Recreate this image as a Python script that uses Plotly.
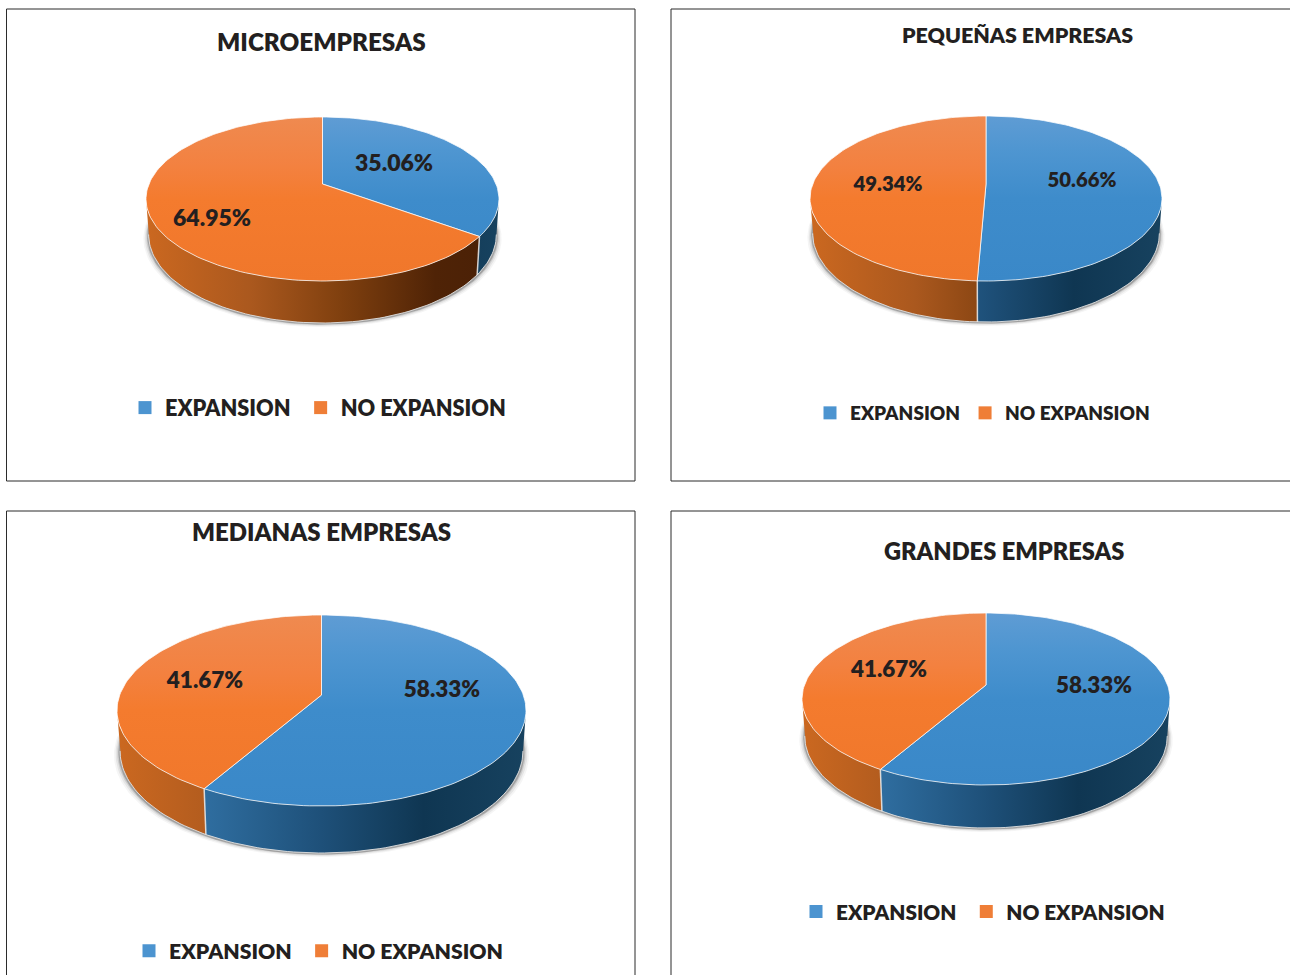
import math
import plotly.graph_objects as go

W, H = 1290, 975

# ---- data ----
categories = ["EXPANSION", "NO EXPANSION"]
titles = ["MICROEMPRESAS", "PEQUEÑAS EMPRESAS", "MEDIANAS EMPRESAS", "GRANDES EMPRESAS"]
expansion_pct = [35.06, 50.66, 58.33, 58.33]
no_expansion_pct = [64.95, 49.34, 41.67, 41.67]

# ---- layout of each panel (px) ----
frames = [(6.5, 9, 635, 481), (671, 9, 1310, 481), (6.5, 511, 635, 995), (671, 511, 1310, 995)]
# left, right, top, bottom of pie face; apex y; front wall depth
pies = [(146, 499, 117, 281, 184, 42), (810, 1162, 116, 281, 184, 41),
        (117, 526, 615, 806, 695, 47), (802, 1170, 613, 785, 685, 43)]
title_pos = [(321, 41.5), (1017, 34.5), (321, 531.5), (1004, 550.5)]
title_sizes = [24.3, 21.4, 24, 23.6]
label_pos = [((394, 165), (212, 220)), ((1082, 182), (888, 186)),
             ((442, 691), (205, 682)), ((1094, 687), (889, 671))]
label_sizes = [23, 20.3, 22.5, 22.4]
legend_pos = [(125, 408, 21.7), (810, 413, 19), (129, 951, 21.2), (796, 912, 20.8)]
legend_gap = [1, 0, 1, 1]  # extra space after the first legend entry
BASE_SCALE = 0.985
FONT_WEIGHT = 800

BLUE_TOP = [[0, "#5f9cd4"], [0.2, "#4f96d1"], [0.5, "#3e8ccb"], [1, "#3a88c8"]]
ORANGE_TOP = [[0, "#ef8a50"], [0.3, "#f38140"], [0.5, "#f47b2e"], [1, "#f0772b"]]
BLUE_WALL = [[0, "#3a80b8"], [0.25, "#2d6a9b"], [0.5, "#1e5079"], [0.75, "#0f3652"], [1, "#17425f"]]
ORANGE_WALL = [[0, "#cb6820"], [0.3, "#aa581e"], [0.55, "#80400f"], [0.82, "#4f2306"], [1, "#4a2006"]]
LEGEND_BLUE, LEGEND_ORANGE = "#4c94d0", "#ef7e37"
TEXT = "#231f20"

fig = go.Figure()
layout_extra = {}
shapes, annotations = [], []


def projector(pie):
    left, right, top, bottom, apex, depth = pie
    k = (top + bottom - 2 * apex) / (bottom - top)
    b = top * (1 + k) - apex
    cx = (left + right) / 2
    r = (right - left) / 2 * math.sqrt(1 - k * k)
    d0 = depth * (1 - k)

    def face(t_deg, scale=1.0, dy=0.0):
        t = math.radians(t_deg)
        u, v = math.sin(t), math.cos(t)
        w = 1 + k * v
        return cx + scale * r * u / w, (apex + b * v) / w + dy

    def base(t_deg, scale=1.0, dy=0.0):
        t = math.radians(t_deg)
        w = 1 + k * math.cos(t)
        x, y = face(t_deg, scale * BASE_SCALE)
        return x, y + d0 / w + dy

    return face, base, k, cx


def arc(fn, a, b, **kw):
    n = max(2, int(abs(b - a) / 1.5))
    return [fn(a + (b - a) * i / n, **kw) for i in range(n + 1)]


def add_poly(pts, ax, **kw):
    fig.add_trace(go.Scatter(x=[p[0] for p in pts], y=[p[1] for p in pts], mode="lines", fill="toself",
                             xaxis=f"x{ax}", yaxis=f"y{ax}", showlegend=False, hoverinfo="skip", **kw))


for i in range(4):
    ax = i + 1
    fx0, fy0, fx1, fy1 = frames[i]
    dom_x = [max(fx0, 0) / W, min(fx1, W) / W]
    dom_y = [1 - min(fy1, H) / H, 1 - fy0 / H]
    layout_extra[f"xaxis{ax}"] = dict(domain=dom_x, range=[max(fx0, 0), min(fx1, W)], visible=False, fixedrange=True,
                                      anchor=f"y{ax}")
    layout_extra[f"yaxis{ax}"] = dict(domain=dom_y, range=[min(fy1, H), fy0], visible=False, fixedrange=True,
                                      anchor=f"x{ax}")
    shapes.append(dict(type="rect", xref="paper", yref="paper", x0=fx0 / W, x1=fx1 / W,
                       y0=1 - fy1 / H, y1=1 - fy0 / H, line=dict(color="#2b2b2b", width=1), layer="below"))

    pie = pies[i]
    face, base, k, cx = projector(pie)
    left, right = pie[0], pie[1]
    vals = [expansion_pct[i], no_expansion_pct[i]]
    split = 360 * vals[0] / sum(vals)
    vis0 = math.degrees(math.acos(-k))
    vis1 = 360 - vis0

    # soft ground shadow
    for grow, dy, alpha in [(1.030, 4, 0.05), (1.022, 3, 0.08), (1.014, 2, 0.14), (1.008, 1.5, 0.28)]:
        pts = arc(base, 0, 360, scale=grow, dy=dy)
        add_poly(pts, ax, line=dict(width=0), fillcolor=f"rgba(50,50,50,{alpha})")

    # side walls
    for a, b, scale in [(0, split, BLUE_WALL), (split, 360, ORANGE_WALL)]:
        t0, t1 = max(a, vis0), min(b, vis1)
        if t1 > t0:
            pts = arc(face, t0, t1) + arc(base, t1, t0)
            add_poly(pts + pts[:1], ax, line=dict(width=0),
                     fillgradient=dict(type="horizontal", colorscale=scale, start=left, stop=right))
    # pale edge along the foot of the wall
    pts = arc(base, vis0, vis1)
    fig.add_trace(go.Scatter(x=[p[0] for p in pts], y=[p[1] for p in pts], mode="lines",
                             line=dict(color="rgba(225,225,225,0.9)", width=1), xaxis=f"x{ax}", yaxis=f"y{ax}",
                             showlegend=False, hoverinfo="skip"))
    # seam between the wall segments
    if vis0 < split < vis1:
        p, q = face(split), base(split)
        fig.add_trace(go.Scatter(x=[p[0], q[0]], y=[p[1], q[1]], mode="lines",
                                 line=dict(color="rgba(235,235,235,0.85)", width=1.5), xaxis=f"x{ax}",
                                 yaxis=f"y{ax}", showlegend=False, hoverinfo="skip"))

    # pie face
    apex_pt = face(0)[0], pie[4]
    for a, b, scale in [(0, split, BLUE_TOP), (split, 360, ORANGE_TOP)]:
        pts = [apex_pt] + arc(face, a, b) + [apex_pt]
        add_poly(pts, ax, line=dict(color="rgba(255,255,255,0.75)", width=1),
                 fillgradient=dict(type="vertical", colorscale=scale, start=pie[2], stop=pie[3]))

    # value labels
    lp = label_pos[i]
    fig.add_trace(go.Scatter(x=[lp[0][0], lp[1][0]], y=[lp[0][1], lp[1][1]], mode="text",
                             text=[f"{v:.2f}%" for v in vals], textposition="middle center",
                             textfont=dict(family="Lato", size=label_sizes[i], color=TEXT, weight=FONT_WEIGHT),
                             xaxis=f"x{ax}", yaxis=f"y{ax}", showlegend=False, hoverinfo="skip"))

    # legend
    name = "legend" if i == 0 else f"legend{ax}"
    pads = ["\u00a0" * legend_gap[i], ""]
    for cat, col, pad in zip(categories, (LEGEND_BLUE, LEGEND_ORANGE), pads):
        fig.add_trace(go.Scatter(x=[None], y=[None], mode="markers", name=cat + pad, legend=name,
                                 marker=dict(symbol="square", size=13, color=col),
                                 xaxis=f"x{ax}", yaxis=f"y{ax}", showlegend=True))
    lx, ly, fs = legend_pos[i]
    layout_extra[name] = dict(orientation="h", x=lx / W, y=1 - ly / H, xanchor="left", yanchor="middle",
                              bgcolor="rgba(0,0,0,0)", itemsizing="trace", itemclick=False, itemdoubleclick=False,
                              font=dict(family="Lato", size=fs, color=TEXT, weight=FONT_WEIGHT))

    # title
    tx, ty = title_pos[i]
    annotations.append(dict(text=titles[i], x=tx, y=ty, xref=f"x{ax}", yref=f"y{ax}", showarrow=False,
                            xanchor="center", yanchor="middle",
                            font=dict(family="Lato", size=title_sizes[i], color=TEXT, weight=FONT_WEIGHT)))

fig.update_layout(width=W, height=H, margin=dict(l=0, r=0, t=0, b=0), paper_bgcolor="white", plot_bgcolor="white",
                  shapes=shapes, annotations=annotations, **layout_extra)
fig.write_html("out.html", config=dict(displayModeBar=False),
               post_script="document.body.style.margin='0';document.documentElement.style.overflow='hidden';")
